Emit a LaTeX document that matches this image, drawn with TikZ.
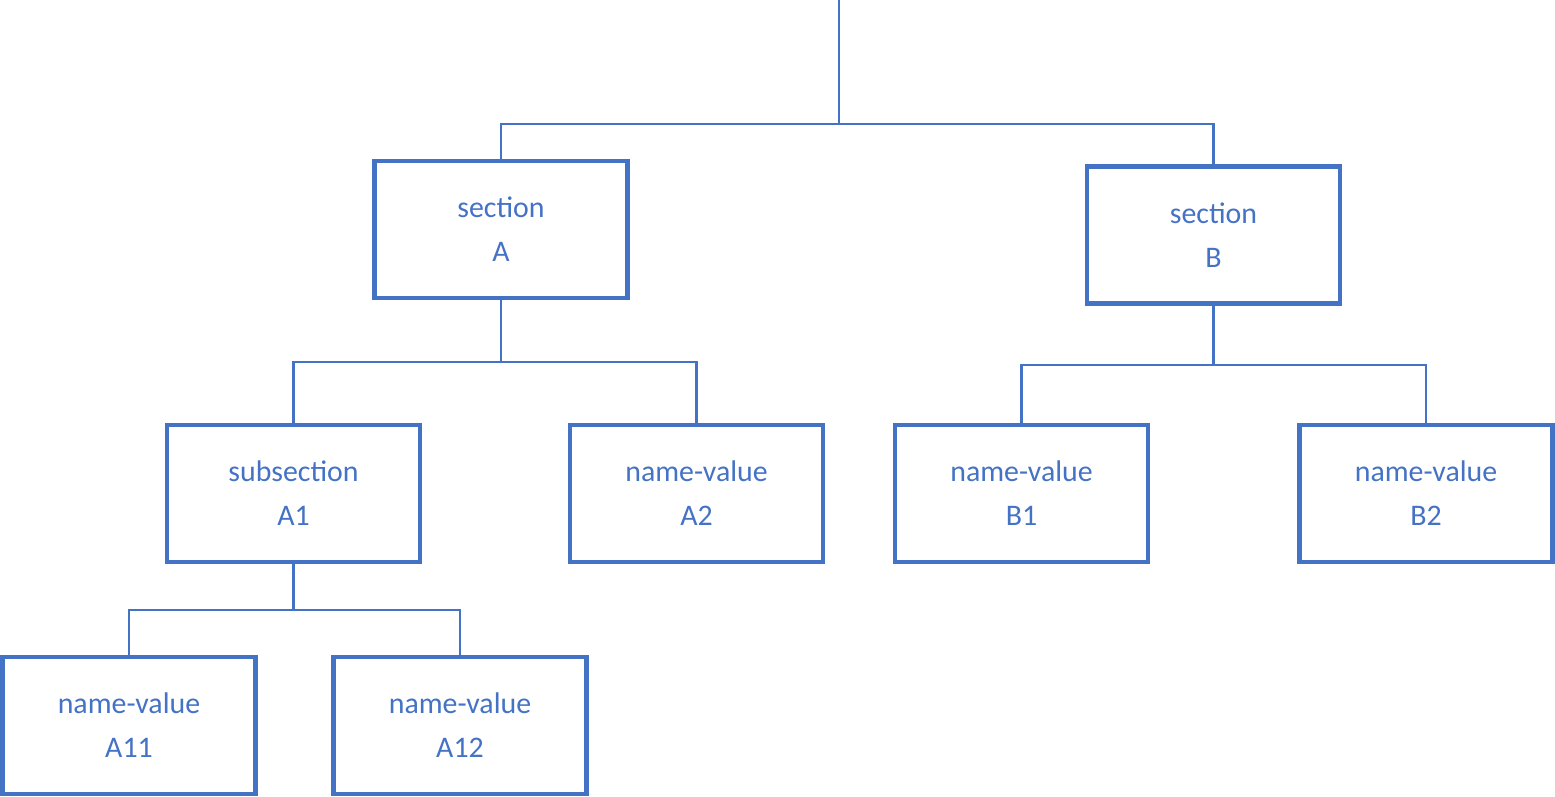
\documentclass[tikz,border=0pt]{standalone}
\usepackage{fontspec}
\setmainfont{Carlito}
\usetikzlibrary{positioning}
\definecolor{boxblue}{HTML}{4472C4}

\begin{document}
\begin{tikzpicture}[x=0.02cm, y=-0.02cm,
    box/.style={draw=boxblue, line width=2.4pt, text=boxblue, minimum width=5.06cm,
      minimum height=2.74cm, align=center, font=\fontsize{17}{25}\selectfont},
    link/.style={draw=boxblue, line width=1.2pt}]
    \useasboundingbox (0,0) rectangle (1555,797);

    \node[box] (secA) at (501,229.5) {section\\A};
    \node[box] (secB) at (1213.5,235) {section\\B};
    \node[box] (subA1) at (293.5,493.5) {subsection\\A1};
    \node[box] (nvA2) at (696.5,493.5) {name-value\\A2};
    \node[box] (nvB1) at (1021.5,493.5) {name-value\\B1};
    \node[box] (nvB2) at (1426,493.5) {name-value\\B2};
    \node[box] (nvA11) at (129,725.5) {name-value\\A11};
    \node[box] (nvA12) at (460,725.5) {name-value\\A12};

    \coordinate (root) at (839,0);
    \coordinate (rootj) at (839,124);
    \coordinate (aj) at (501,362);
    \coordinate (bj) at (1213.5,365);
    \coordinate (a1j) at (293.5,610);

    % top level
    \draw[link] (root) -- (rootj);
    \draw[link] (rootj) -| (secA.north);
    \draw[link] (rootj) -| (secB.north);
    % section A
    \draw[link] (secA.south) -- (aj);
    \draw[link] (aj) -| (subA1.north);
    \draw[link] (aj) -| (nvA2.north);
    % section B
    \draw[link] (secB.south) -- (bj);
    \draw[link] (bj) -| (nvB1.north);
    \draw[link] (bj) -| (nvB2.north);
    % subsection A1
    \draw[link] (subA1.south) -- (a1j);
    \draw[link] (a1j) -| (nvA11.north);
    \draw[link] (a1j) -| (nvA12.north);
\end{tikzpicture}
\end{document}
